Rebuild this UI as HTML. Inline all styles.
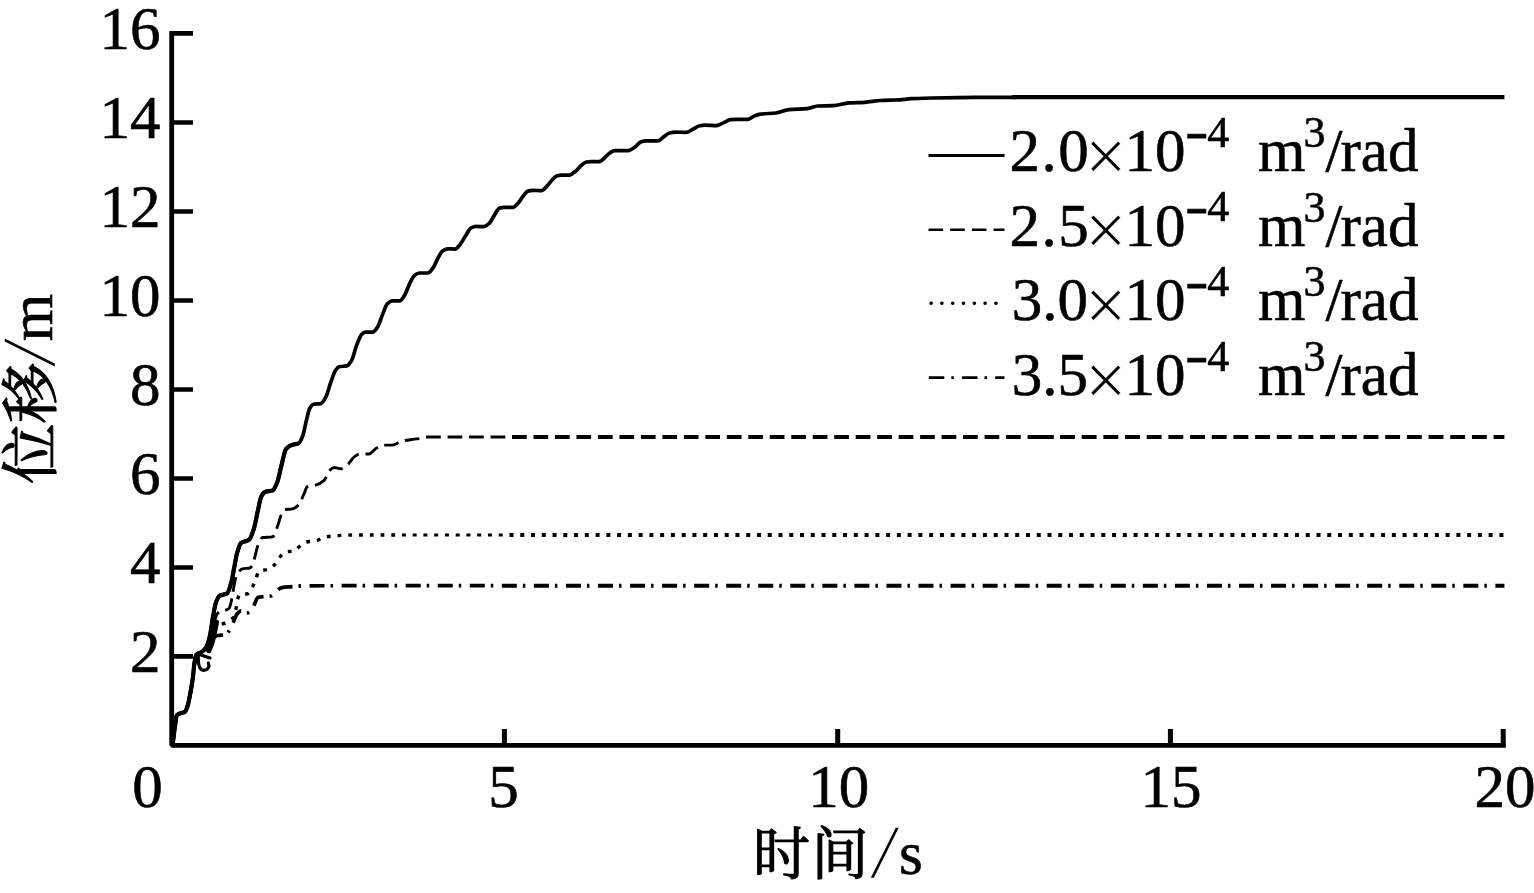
<!DOCTYPE html>
<html lang="zh-CN">
<head>
<meta charset="utf-8">
<title>位移-时间曲线</title>
<style>
html,body{margin:0;padding:0;background:#fff;}
body{width:1534px;height:893px;overflow:hidden;}
svg{display:block;}
</style>
</head>
<body>
<svg width="1534" height="893" viewBox="0 0 1534 893">
<rect width="1534" height="893" fill="#fff"/>
<g fill="none" stroke="#000" stroke-linejoin="round">
<path d="M171.7 31.1 V745.3 H1505.8" stroke-width="4.8" stroke-linejoin="bevel"/>
<path d="M171.7 33.4 H193 M171.7 122.5 H193 M171.7 211.5 H193 M171.7 300.5 H193 M171.7 389.5 H193 M171.7 478.5 H193 M171.7 567.5 H193 M171.7 656.4 H193" stroke-width="4.7"/>
<path d="M504.4 745.3 V728.9 M837.7 745.3 V728.9 M1170.4 745.3 V728.9 M1503.2 745.3 V728.9" stroke-width="5"/>
<path d="M401.9 535.0 C386.0 535.0 370.2 535.0 354.3 535.0 C350.6 535.0 346.8 535.2 343.1 535.3 C339.7 535.4 336.4 535.7 333.0 536.0 C329.7 536.3 326.3 536.7 323.0 537.5 C320.8 538.0 318.5 540.5 316.3 540.9 C312.9 541.5 309.6 541.3 306.2 542.0 C304.0 542.4 301.7 544.9 299.5 546.5 C297.6 547.9 295.8 550.6 293.9 551.0 C290.9 551.7 287.9 551.4 284.9 552.1 C283.0 552.5 281.2 555.5 279.3 557.7 C277.4 559.9 275.6 563.9 273.7 565.5 C271.5 567.4 269.2 568.8 267.0 569.5 C264.4 570.3 261.8 570.0 259.2 571.1 C258.1 571.6 256.9 576.3 255.8 579.0 C254.7 581.6 253.6 585.1 252.5 587.0 C250.8 590.0 249.0 593.5 247.3 593.8 C244.7 594.3 242.2 594.0 239.6 594.5 C238.9 594.6 238.2 597.4 237.5 600.0 C237.0 601.9 236.5 606.7 236.0 609.0 C235.3 612.1 234.7 615.5 234.0 616.5 C232.7 618.5 231.3 619.1 230.0 620.0 C227.9 621.5 225.8 622.9 223.7 623.5 C221.8 624.0 219.9 623.9 218.0 624.5 C216.8 624.9 215.7 626.3 214.5 628.0 C213.2 630.0 211.8 637.1 210.5 640.0 C208.9 643.5 207.3 646.3 205.7 648.2 C204.2 649.9 202.7 651.2 201.2 652.2 C199.6 653.3 197.9 653.0 196.3 654.8 C195.6 655.5 195.0 659.9 194.3 664.2 C193.8 667.2 193.4 674.1 192.9 677.6 C192.0 684.4 191.1 689.1 190.2 693.8 C189.3 698.3 188.5 703.3 187.6 705.9 C186.7 708.6 185.8 711.4 184.9 711.9 C183.3 712.8 181.8 712.7 180.2 713.3 C179.1 713.8 177.9 714.0 176.8 715.3 C176.1 716.1 175.5 723.0 174.8 727.4 C174.1 731.8 173.5 740.4 172.8 742.2 C172.5 743.1 172.1 743.4 171.8 744.0" stroke-width="3.4" stroke-dasharray="0 6.76 3.8 0.2"/>
<path d="M401.9 535 H509.5" stroke-width="3.2" stroke-dasharray="4 6.76"/>
<path d="M509.5 535 H1504.4" stroke-width="4" stroke-dasharray="4 6.76"/>
<path d="M405.7 585.7 C371.7 585.7 337.7 585.7 303.7 585.8 C301.5 585.8 299.2 586.1 297.0 586.3 C294.7 586.5 292.3 586.6 290.0 586.8 C287.3 587.0 284.7 587.1 282.0 587.6 C280.1 587.9 278.2 589.6 276.3 591.0 C274.5 592.3 272.8 595.7 271.0 596.0 C268.7 596.4 266.3 596.3 264.0 596.6 C261.9 596.8 259.9 596.9 257.8 597.5 C256.9 597.8 255.9 600.8 255.0 603.0 C254.2 604.9 253.3 609.2 252.5 610.0 C250.5 611.9 248.5 613.0 246.5 613.0 C244.7 613.0 242.8 610.8 241.0 610.8 C239.7 610.8 238.3 612.4 237.0 614.0 C235.8 615.4 234.7 619.5 233.5 622.0 C232.0 625.2 230.5 628.7 229.0 631.0 C228.0 632.5 227.0 634.6 226.0 634.8 C223.3 635.3 220.7 635.1 218.0 635.5 C216.5 635.7 215.0 636.4 213.5 637.5 C212.3 638.4 211.2 642.5 210.0 644.0 C208.6 645.9 207.1 646.9 205.7 648.2 C204.2 649.6 202.7 651.2 201.2 652.2 C199.6 653.3 197.9 653.0 196.3 654.8 C195.6 655.5 195.0 659.9 194.3 664.2 C193.8 667.2 193.4 674.1 192.9 677.6 C192.0 684.4 191.1 689.1 190.2 693.8 C189.3 698.3 188.5 703.3 187.6 705.9 C186.7 708.6 185.8 711.4 184.9 711.9 C183.3 712.8 181.8 712.7 180.2 713.3 C179.1 713.8 177.9 714.0 176.8 715.3 C176.1 716.1 175.5 723.0 174.8 727.4 C174.1 731.8 173.5 740.4 172.8 742.2 C172.5 743.1 172.1 743.4 171.8 744.0" stroke-width="3.7" stroke-dasharray="0 8.55 2.5 6 15 0"/>
<path d="M405.7 585.7 H501.85" stroke-width="3.8" stroke-dasharray="15 6 2.5 8.55"/>
<path d="M501.85 585.7 H1504.4" stroke-width="4" stroke-dasharray="15 6 2.5 8.55"/>
<path d="M426.1 438.0 C424.6 438.1 423.0 438.3 421.5 438.4 C417.8 438.8 414.0 439.2 410.3 439.7 C407.3 440.1 404.3 440.5 401.3 441.3 C398.3 442.0 395.4 445.1 392.4 445.1 C389.4 445.1 386.4 445.1 383.4 445.1 C381.2 445.1 378.9 446.8 376.7 448.0 C374.1 449.4 371.5 454.0 368.9 454.0 C365.9 454.0 362.9 454.0 359.9 454.0 C358.0 454.0 356.2 455.6 354.3 456.9 C352.1 458.5 349.8 463.0 347.6 464.8 C345.4 466.6 343.1 468.8 340.9 468.8 C338.7 468.8 336.4 467.5 334.2 467.5 C332.7 467.5 331.2 469.0 329.7 470.4 C327.8 472.1 326.0 478.8 324.1 480.4 C321.1 483.1 318.1 484.6 315.1 485.4 C312.5 486.1 309.9 485.8 307.3 486.7 C306.2 487.1 305.1 491.6 304.0 493.9 C302.1 497.8 300.3 503.4 298.4 505.1 C296.1 507.2 293.9 508.9 291.6 509.1 C289.4 509.3 287.1 509.2 284.9 509.5 C283.8 509.6 282.7 512.0 281.6 514.0 C280.1 516.8 278.6 523.8 277.1 527.5 C275.6 531.2 274.1 536.7 272.6 536.9 C269.2 537.3 265.9 537.1 262.5 537.5 C261.0 537.7 259.5 541.9 258.0 545.4 C256.5 548.8 255.1 557.3 253.6 561.0 C252.5 563.9 251.3 567.5 250.2 567.8 C247.6 568.6 245.0 568.2 242.4 568.9 C240.5 569.4 238.7 571.3 236.8 574.5 C235.9 576.1 234.9 581.4 234.0 586.0 C233.3 589.3 232.7 595.0 232.0 598.0 C231.0 602.5 230.0 607.7 229.0 608.5 C227.7 609.6 226.3 610.0 225.0 610.3 C223.7 610.6 222.3 610.6 221.0 611.0 C219.8 611.3 218.7 612.2 217.5 613.5 C216.4 614.7 215.4 618.4 214.3 622.0 C213.1 625.9 212.0 634.7 210.8 638.0 C209.1 642.8 207.4 646.1 205.7 648.2 C204.2 650.0 202.7 651.2 201.2 652.2 C199.6 653.3 197.9 653.0 196.3 654.8 C195.6 655.5 195.0 659.9 194.3 664.2 C193.8 667.2 193.4 674.1 192.9 677.6 C192.0 684.4 191.1 689.1 190.2 693.8 C189.3 698.3 188.5 703.3 187.6 705.9 C186.7 708.6 185.8 711.4 184.9 711.9 C183.3 712.8 181.8 712.7 180.2 713.3 C179.1 713.8 177.9 714.0 176.8 715.3 C176.1 716.1 175.5 723.0 174.8 727.4 C174.1 731.8 173.5 740.4 172.8 742.2 C172.5 743.1 172.1 743.4 171.8 744.0" stroke-width="2.9" stroke-dasharray="0 6.78 14.7 0"/>
<path d="M426.1 437 H512" stroke-width="3.1" stroke-dasharray="14.7 6.78"/>
<path d="M512.02 437 H1027.9" stroke-width="4" stroke-dasharray="14.7 6.78"/>
<path d="M1027.9 437 H1053.8" stroke-width="4"/>
<path d="M1060 437 H1504.4" stroke-width="4" stroke-dasharray="14.9 6.78"/>
<path d="M171.8 744.0 C172.1 743.4 172.5 743.1 172.8 742.2 C173.5 740.4 174.1 731.8 174.8 727.4 C175.5 723.0 176.1 716.1 176.8 715.3 C177.9 714.0 179.1 713.8 180.2 713.3 C181.8 712.7 183.3 712.8 184.9 711.9 C185.8 711.4 186.7 708.6 187.6 705.9 C188.5 703.3 189.3 698.3 190.2 693.8 C191.1 689.1 192.0 684.4 192.9 677.6 C193.4 674.1 193.8 667.2 194.3 664.2 C195.0 659.9 195.6 655.5 196.3 654.8 C197.9 653.0 199.6 653.3 201.2 652.2 C202.7 651.2 204.2 650.2 205.7 648.2 C207.0 646.4 208.3 642.4 209.6 637.3 C210.6 633.3 211.7 624.0 212.7 618.4 C213.8 612.6 214.8 605.5 215.9 602.7 C217.2 599.2 218.5 596.4 219.8 595.7 C222.3 594.3 224.7 594.9 227.2 593.4 C228.6 592.5 230.1 586.8 231.5 581.5 C232.5 577.8 233.5 571.1 234.5 566.0 C235.4 561.6 236.2 556.0 237.1 553.0 C238.4 548.5 239.7 544.0 241.0 543.0 C243.7 541.0 246.4 541.7 249.1 539.8 C250.6 538.7 252.1 534.2 253.6 529.7 C255.1 525.2 256.6 515.9 258.1 509.5 C259.2 504.8 260.3 497.9 261.4 496.1 C262.9 493.6 264.4 492.0 265.9 491.6 C268.1 490.9 270.4 491.2 272.6 490.5 C274.1 490.0 275.6 486.3 277.1 482.7 C278.6 479.1 280.1 470.4 281.6 464.8 C283.1 459.3 284.5 450.9 286.0 449.1 C287.9 446.8 289.7 445.8 291.6 445.1 C293.9 444.3 296.1 444.5 298.4 443.5 C299.9 442.9 301.3 439.5 302.8 435.7 C303.9 433.0 304.9 426.3 306.0 422.1 C307.2 417.2 308.5 410.6 309.7 408.5 C310.9 406.4 312.2 404.5 313.4 404.3 C315.9 403.8 318.3 404.1 320.8 403.6 C322.4 403.3 324.1 400.3 325.7 397.4 C327.4 394.4 329.0 387.1 330.7 382.6 C332.3 378.2 334.0 372.6 335.6 370.3 C336.8 368.6 338.1 366.8 339.3 366.6 C341.8 366.1 344.2 366.4 346.7 365.9 C348.3 365.6 350.0 363.1 351.6 360.5 C353.2 357.9 354.9 349.9 356.5 345.7 C358.2 341.4 359.8 336.3 361.5 334.6 C362.7 333.4 364.0 332.1 365.2 332.1 C367.7 332.1 370.1 332.1 372.6 332.1 C374.2 332.1 375.9 329.5 377.5 327.2 C379.1 324.9 380.8 318.8 382.4 314.9 C384.0 311.0 385.7 305.4 387.3 303.8 C389.0 302.2 390.6 300.8 392.3 300.8 C394.8 300.8 397.2 300.8 399.7 300.8 C401.3 300.8 403.0 297.7 404.6 295.2 C406.2 292.7 407.9 287.4 409.5 284.1 C411.1 280.8 412.8 276.6 414.4 275.4 C416.1 274.1 417.7 273.0 419.4 273.0 C422.3 273.0 425.1 273.0 428.0 273.0 C429.6 273.0 431.3 270.3 432.9 268.1 C434.6 265.9 436.2 261.1 437.9 258.2 C439.5 255.4 441.2 251.8 442.8 250.8 C444.4 249.8 446.1 248.8 447.7 248.8 C450.2 248.8 452.6 249.1 455.1 249.1 C456.7 249.1 458.4 246.5 460.0 244.6 C462.1 242.2 464.1 237.9 466.2 234.8 C467.8 232.4 469.5 228.7 471.1 227.9 C472.7 227.1 474.4 226.4 476.0 226.4 C478.6 226.4 481.1 226.7 483.7 226.7 C485.7 226.7 487.6 224.8 489.6 223.0 C491.2 221.5 492.8 217.6 494.4 215.2 C496.0 212.7 497.7 208.9 499.3 208.3 C500.9 207.7 502.6 207.3 504.2 207.3 C507.1 207.3 510.1 207.3 513.0 207.3 C514.6 207.3 516.3 205.1 517.9 203.4 C519.5 201.7 521.2 198.6 522.8 196.6 C524.4 194.6 526.1 191.9 527.7 191.3 C529.3 190.7 531.0 190.3 532.6 190.3 C535.5 190.3 538.5 190.7 541.4 190.7 C543.4 190.7 545.3 187.7 547.3 185.8 C548.9 184.2 550.5 181.6 552.1 180.0 C553.7 178.3 555.4 176.1 557.0 175.7 C558.6 175.3 560.3 175.1 561.9 175.1 C564.5 175.1 567.1 175.1 569.7 175.1 C571.7 175.1 573.6 172.8 575.6 171.2 C577.6 169.6 579.5 166.9 581.5 165.3 C583.1 164.0 584.8 162.2 586.4 162.0 C588.0 161.8 589.7 161.6 591.3 161.6 C593.9 161.6 596.5 161.6 599.1 161.6 C601.0 161.6 603.0 159.1 604.9 157.5 C606.5 156.2 608.2 154.0 609.8 153.0 C611.4 152.0 613.1 150.6 614.7 150.6 C619.3 150.6 623.8 150.6 628.4 150.6 C630.7 150.6 633.0 148.3 635.3 146.7 C637.2 145.4 639.2 142.4 641.1 141.8 C642.7 141.3 644.4 140.9 646.0 140.9 C649.9 140.9 653.9 140.9 657.8 140.9 C659.7 140.9 661.7 138.2 663.6 136.9 C665.6 135.6 667.5 133.5 669.5 133.0 C671.5 132.5 673.4 132.1 675.4 132.1 C679.0 132.1 682.5 132.4 686.1 132.4 C688.4 132.4 690.7 130.2 693.0 129.1 C695.3 128.0 697.5 126.2 699.8 125.8 C701.4 125.5 703.1 125.2 704.7 125.2 C708.6 125.2 712.5 125.6 716.4 125.6 C718.7 125.6 721.0 123.9 723.3 122.9 C725.6 121.9 727.8 120.0 730.1 119.7 C732.1 119.5 734.0 119.3 736.0 119.3 C739.9 119.3 743.8 119.3 747.7 119.3 C749.7 119.3 751.6 117.2 753.6 116.4 C755.9 115.5 758.1 114.4 760.4 114.1 C765.6 113.4 770.8 113.6 776.0 113.0 C780.3 112.5 784.7 110.0 789.0 109.6 C795.1 109.0 801.3 109.2 807.4 108.6 C810.9 108.3 814.3 106.1 817.8 106.0 C823.0 105.8 828.2 105.9 833.4 105.7 C838.6 105.5 843.8 103.2 849.0 102.9 C854.2 102.6 859.5 102.6 864.7 102.3 C869.9 102.0 875.2 100.8 880.4 100.5 C885.6 100.2 890.8 100.2 896.0 100.0 C901.2 99.8 906.5 99.0 911.7 98.7 C918.6 98.4 925.6 98.1 932.5 98.0 C941.2 97.8 949.9 97.7 958.6 97.6 C969.0 97.5 979.5 97.4 989.9 97.3 L1016 97.3" stroke-width="3.7"/>
<path d="M171.8 744.0 C172.1 743.4 172.5 743.1 172.8 742.2 C173.5 740.4 174.1 731.8 174.8 727.4 C175.5 723.0 176.1 716.1 176.8 715.3 C177.9 714.0 179.1 713.8 180.2 713.3 C181.8 712.7 183.3 712.8 184.9 711.9 C185.8 711.4 186.7 708.6 187.6 705.9 C188.5 703.3 189.3 698.3 190.2 693.8 C191.1 689.1 192.0 684.4 192.9 677.6 C193.4 674.1 193.8 667.2 194.3 664.2 C195.0 659.9 195.6 655.5 196.3 654.8 C197.9 653.0 199.6 653.3 201.2 652.2 C202.7 651.2 204.2 650.2 205.7 648.2 C207.0 646.4 208.3 642.4 209.6 637.3 C210.6 633.3 211.7 624.0 212.7 618.4 C213.8 612.6 214.8 605.5 215.9 602.7 C217.2 599.2 218.5 596.4 219.8 595.7 C222.3 594.3 224.7 594.9 227.2 593.4 C228.6 592.5 230.1 586.8 231.5 581.5 C232.5 577.8 233.5 571.1 234.5 566.0 C235.4 561.6 236.2 556.0 237.1 553.0 C238.4 548.5 239.7 544.0 241.0 543.0 C243.7 541.0 246.4 541.7 249.1 539.8 C250.6 538.7 252.1 534.2 253.6 529.7 C255.1 525.2 256.6 515.9 258.1 509.5 C259.2 504.8 260.3 497.9 261.4 496.1 C262.9 493.6 264.4 492.0 265.9 491.6 C268.1 490.9 270.4 491.2 272.6 490.5 C274.1 490.0 275.6 486.3 277.1 482.7 C278.6 479.1 280.1 470.4 281.6 464.8 C283.1 459.3 284.5 450.9 286.0 449.1 C287.9 446.8 289.7 445.8 291.6 445.1 C293.9 444.3 296.1 444.0 298.4 443.5" stroke-width="4.2"/>
<path d="M1012 97.1 H1504.4" stroke-width="4.2"/>
<path d="M198.3 656 C198 664 199.5 670 203.5 670.3 C208 670.5 210 666.5 208.3 663 M201 655 L210 658" stroke-width="3.2" stroke-linecap="round"/>
<path d="M208.8 650.5 C211 646 212.6 641 213.6 636 C214.6 631 215.3 627 216.3 622.5" stroke-width="5.4" stroke-linecap="round"/>
<path d="M928.5 155.5 H1004.5" stroke-width="3.2"/>
<path d="M928.5 229.8 H1004.5" stroke-width="2.4" stroke-dasharray="14.6 7.1"/>
<path d="M931 303.3 H998" stroke-width="3.4" stroke-linecap="round" stroke-dasharray="0.2 10.6"/>
<path d="M928.8 377.6 H1004.5" stroke-width="2.6" stroke-dasharray="15.5 7 2.5 8.2"/>
</g>
<g font-family="'Liberation Serif', 'Noto Serif CJK SC', serif" font-size="61.0" fill="#000" stroke="#000" stroke-width="0.6" stroke-linejoin="round">
<text x="160.5" y="48.9" text-anchor="end">16</text>
<text x="160.5" y="138.0" text-anchor="end">14</text>
<text x="160.5" y="227.0" text-anchor="end">12</text>
<text x="160.5" y="316.0" text-anchor="end">10</text>
<text x="160.5" y="405.0" text-anchor="end">8</text>
<text x="160.5" y="494.0" text-anchor="end">6</text>
<text x="160.5" y="583.0" text-anchor="end">4</text>
<text x="160.5" y="671.9" text-anchor="end">2</text>
<text x="147.5" y="807" text-anchor="middle">0</text>
<text x="503.4" y="807" text-anchor="middle">5</text>
<text x="838.7" y="807" text-anchor="middle">10</text>
<text x="1170.9" y="807" text-anchor="middle">15</text>
<text x="1505.0" y="807" text-anchor="middle">20</text>
<text x="753" y="873.8" font-size="57" letter-spacing="1.5" stroke-width="1.2">时间</text>
<text transform="translate(871 877) skewX(-12.3) scale(1 1.225)" x="0" y="0" stroke="none">/</text>
<text x="899" y="874">s</text>
<g transform="translate(51 481) rotate(-90)">
<text transform="translate(-3 -0.5) scale(1.065 1.02)" x="0" y="0" font-size="57" letter-spacing="0" stroke-width="1.1">位移</text>
<text transform="translate(114.8 3) skewX(-12.3) scale(1 1.225)" x="0" y="0" stroke="none">/</text>
<text x="139.7" y="1">m</text>
</g>
<text x="1009.6" y="171.0" letter-spacing="1.4">2.0</text>
<text transform="translate(1084.9 180.8) scale(1.205 1.205)" x="0" y="0" stroke="#fff" stroke-width="0.45">×</text>
<text x="1124.5" y="171.0">10</text>
<text transform="translate(1185.6 161.3) scale(0.9 1.7)" x="0" y="0" font-size="44" stroke-width="0.6">−</text>
<text x="1207.3" y="146.8" font-size="44">4</text>
<text x="1258" y="171.0">m</text>
<text x="1303.5" y="147.0" font-size="44">3</text>
<text x="1325.5" y="171.0">/</text>
<text x="1340.5" y="171.0">rad</text>
<text x="1009.6" y="245.6" letter-spacing="1.4">2.5</text>
<text transform="translate(1084.9 255.4) scale(1.205 1.205)" x="0" y="0" stroke="#fff" stroke-width="0.45">×</text>
<text x="1124.5" y="245.6">10</text>
<text transform="translate(1185.6 235.9) scale(0.9 1.7)" x="0" y="0" font-size="44" stroke-width="0.6">−</text>
<text x="1207.3" y="221.4" font-size="44">4</text>
<text x="1258" y="245.6">m</text>
<text x="1303.5" y="221.6" font-size="44">3</text>
<text x="1325.5" y="245.6">/</text>
<text x="1340.5" y="245.6">rad</text>
<text x="1011.8" y="320.2" letter-spacing="0">3.0</text>
<text transform="translate(1084.9 330.0) scale(1.205 1.205)" x="0" y="0" stroke="#fff" stroke-width="0.45">×</text>
<text x="1124.5" y="320.2">10</text>
<text transform="translate(1185.6 310.5) scale(0.9 1.7)" x="0" y="0" font-size="44" stroke-width="0.6">−</text>
<text x="1207.3" y="296.0" font-size="44">4</text>
<text x="1258" y="320.2">m</text>
<text x="1303.5" y="296.2" font-size="44">3</text>
<text x="1325.5" y="320.2">/</text>
<text x="1340.5" y="320.2">rad</text>
<text x="1011.8" y="394.8" letter-spacing="0">3.5</text>
<text transform="translate(1084.9 404.6) scale(1.205 1.205)" x="0" y="0" stroke="#fff" stroke-width="0.45">×</text>
<text x="1124.5" y="394.8">10</text>
<text transform="translate(1185.6 385.1) scale(0.9 1.7)" x="0" y="0" font-size="44" stroke-width="0.6">−</text>
<text x="1207.3" y="370.6" font-size="44">4</text>
<text x="1258" y="394.8">m</text>
<text x="1303.5" y="370.8" font-size="44">3</text>
<text x="1325.5" y="394.8">/</text>
<text x="1340.5" y="394.8">rad</text>
</g>
</svg>
</body>
</html>
